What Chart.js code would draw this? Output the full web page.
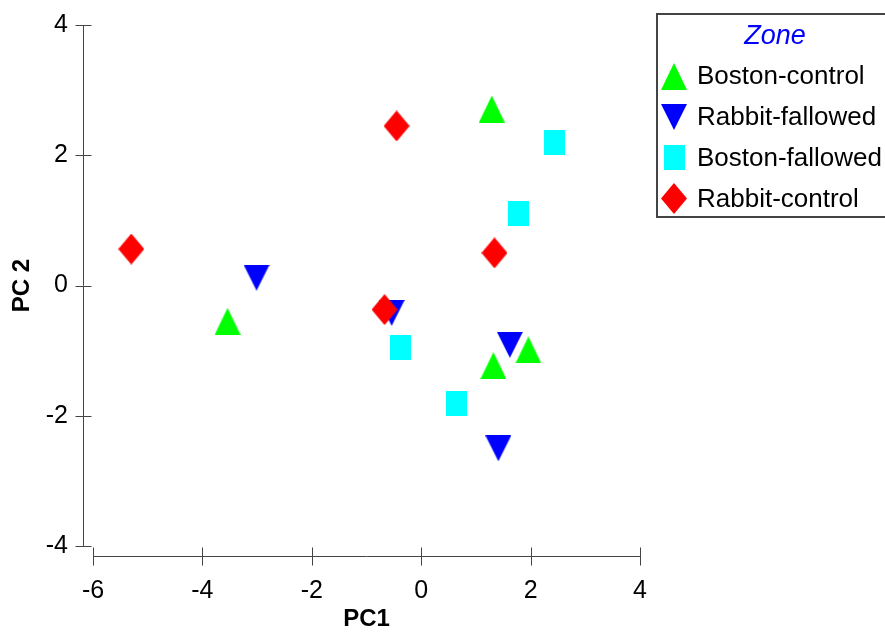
<!DOCTYPE html>
<html>
<head>
<meta charset="utf-8">
<script src="https://cdn.jsdelivr.net/npm/chart.js@4.4.1/dist/chart.umd.min.js"></script>
<style>
html, body { margin: 0; padding: 0; background: #fff; }
#wrap { position: relative; width: 885px; height: 639px; }
</style>
</head>
<body>
<div id="wrap"><canvas id="myChart"></canvas></div>
<script>
var zones = ['Boston-control', 'Rabbit-fallowed', 'Boston-fallowed', 'Rabbit-control'];
var bostonControlX = [1.29, -3.54, 1.32, 1.96];
var bostonControlY = [2.71, -0.55, -1.23, -0.99];
var rabbitFallowedX = [-3.01, -0.54, 1.62, 1.41];
var rabbitFallowedY = [0.12, -0.42, -0.91, -2.50];
var bostonFallowedX = [2.44, 1.78, -0.37, 0.65];
var bostonFallowedY = [2.19, 1.11, -0.95, -1.81];
var rabbitControlX = [-5.30, -0.45, 1.34, -0.67];
var rabbitControlY = [0.56, 2.45, 0.50, -0.37];
var xTicks = [-6, -4, -2, 0, 2, 4];
var yTicks = [-4, -2, 0, 2, 4];

var FONT = "'Liberation Sans', Arial, sans-serif";

// marker images, drawn once
function marker(shape, w, h, color) {
    var c = document.createElement('canvas');
    c.width = w;
    c.height = h;
    var g = c.getContext('2d');
    g.fillStyle = color;
    g.beginPath();
    if (shape === 'up') {
        g.moveTo(w / 2, 0); g.lineTo(w, h); g.lineTo(0, h);
    } else if (shape === 'down') {
        g.moveTo(0, 0); g.lineTo(w, 0); g.lineTo(w / 2, h);
    } else if (shape === 'diamond') {
        g.moveTo(w / 2, 0); g.lineTo(w, h / 2); g.lineTo(w / 2, h); g.lineTo(0, h / 2);
    } else {
        g.rect(0, 0, w, h);
    }
    g.closePath();
    g.fill();
    return c;
}

var markers = [
    marker('up', 26, 27, '#00ff00'),
    marker('down', 26, 26, '#0000ff'),
    marker('square', 21, 25, '#00ffff'),
    marker('diamond', 26, 31, '#ff0000')
];

function points(xs, ys) {
    return xs.map(function(x, i) { return { x: x, y: ys[i] }; });
}

var series = [
    points(bostonControlX, bostonControlY),
    points(rabbitFallowedX, rabbitFallowedY),
    points(bostonFallowedX, bostonFallowedY),
    points(rabbitControlX, rabbitControlY)
];

var detachedAxes = {
    id: 'detachedAxes',
    afterDraw: function(chart) {
        var ctx = chart.ctx;
        var xs = chart.scales.x, ys = chart.scales.y;
        var ax = Math.round(chart.chartArea.left - 10) + 0.5;
        var ay = Math.round(chart.chartArea.bottom + 10) + 0.5;
        ctx.save();
        ctx.strokeStyle = '#444';
        ctx.lineWidth = 1;
        ctx.beginPath();
        ctx.moveTo(ax, ys.getPixelForValue(yTicks[yTicks.length - 1]));
        ctx.lineTo(ax, ys.getPixelForValue(yTicks[0]));
        yTicks.forEach(function(v) {
            var p = Math.round(ys.getPixelForValue(v)) + 0.5;
            ctx.moveTo(ax - 8, p);
            ctx.lineTo(ax + 8, p);
        });
        ctx.moveTo(xs.getPixelForValue(xTicks[0]), ay);
        ctx.lineTo(xs.getPixelForValue(xTicks[xTicks.length - 1]), ay);
        xTicks.forEach(function(v) {
            var p = Math.round(xs.getPixelForValue(v)) + 0.5;
            ctx.moveTo(p, ay - 9);
            ctx.lineTo(p, ay + 9);
        });
        ctx.stroke();
        ctx.restore();
    }
};

var zoneLegend = {
    id: 'zoneLegend',
    afterDraw: function(chart) {
        var ctx = chart.ctx;
        ctx.save();
        ctx.strokeStyle = '#444';
        ctx.lineWidth = 2;
        ctx.strokeRect(657, 14, 240, 203);
        ctx.fillStyle = '#0000ff';
        ctx.font = 'italic 27px ' + FONT;
        ctx.textAlign = 'center';
        ctx.textBaseline = 'middle';
        ctx.fillText('Zone', 775, 36);
        ctx.fillStyle = '#000';
        ctx.font = '26px ' + FONT;
        ctx.textAlign = 'left';
        chart.data.datasets.forEach(function(ds, i) {
            var y = 77 + 40.8 * i;
            var img = ds.pointStyle;
            ctx.drawImage(img, Math.round(674 - img.width / 2), Math.round(y - 1 - img.height / 2));
            ctx.fillText(ds.label, 697, y);
        });
        ctx.restore();
    }
};

var ctx = document.getElementById('myChart').getContext('2d');

var myChart = new Chart(ctx, {
    type: 'scatter',
    data: {
        datasets: zones.map(function(name, i) {
            return {
                label: name,
                data: series[i],
                pointStyle: markers[i],
                pointRadius: 13,
                pointHoverRadius: 13,
                order: 4 - i
            };
        })
    },
    options: {
        responsive: true,
        maintainAspectRatio: false,
        animation: false,
        layout: {
            padding: { left: 0, top: 25, right: 245, bottom: 0 }
        },
        scales: {
            x: {
                min: xTicks[0],
                max: xTicks[xTicks.length - 1],
                afterBuildTicks: function(s) {
                    s.ticks = xTicks.map(function(v) { return { value: v }; });
                },
                afterFit: function(s) {
                    s.height = 93;
                    s.paddingLeft = 0;
                    s.paddingRight = 0;
                },
                grid: { display: false },
                border: { display: false },
                ticks: {
                    color: '#000',
                    padding: 22,
                    maxRotation: 0,
                    font: { family: FONT, size: 25 }
                },
                title: {
                    display: true,
                    text: 'PC1',
                    color: '#000',
                    padding: { top: 0, bottom: 5 },
                    font: { family: FONT, size: 24, weight: 'bold' }
                }
            },
            y: {
                min: yTicks[0],
                max: yTicks[yTicks.length - 1],
                afterBuildTicks: function(s) {
                    s.ticks = yTicks.map(function(v) { return { value: v }; });
                },
                afterFit: function(s) {
                    s.width = 93;
                    s.paddingTop = 0;
                    s.paddingBottom = 0;
                },
                grid: { display: false },
                border: { display: false },
                ticks: {
                    color: '#000',
                    padding: 17,
                    font: { family: FONT, size: 25 }
                },
                title: {
                    display: true,
                    text: 'PC 2',
                    color: '#000',
                    padding: { top: 8, bottom: 0 },
                    font: { family: FONT, size: 24, weight: 'bold' }
                }
            }
        },
        plugins: {
            legend: { display: false },
            tooltip: { enabled: false }
        }
    },
    plugins: [detachedAxes, zoneLegend]
});
</script>
</body>
</html>
